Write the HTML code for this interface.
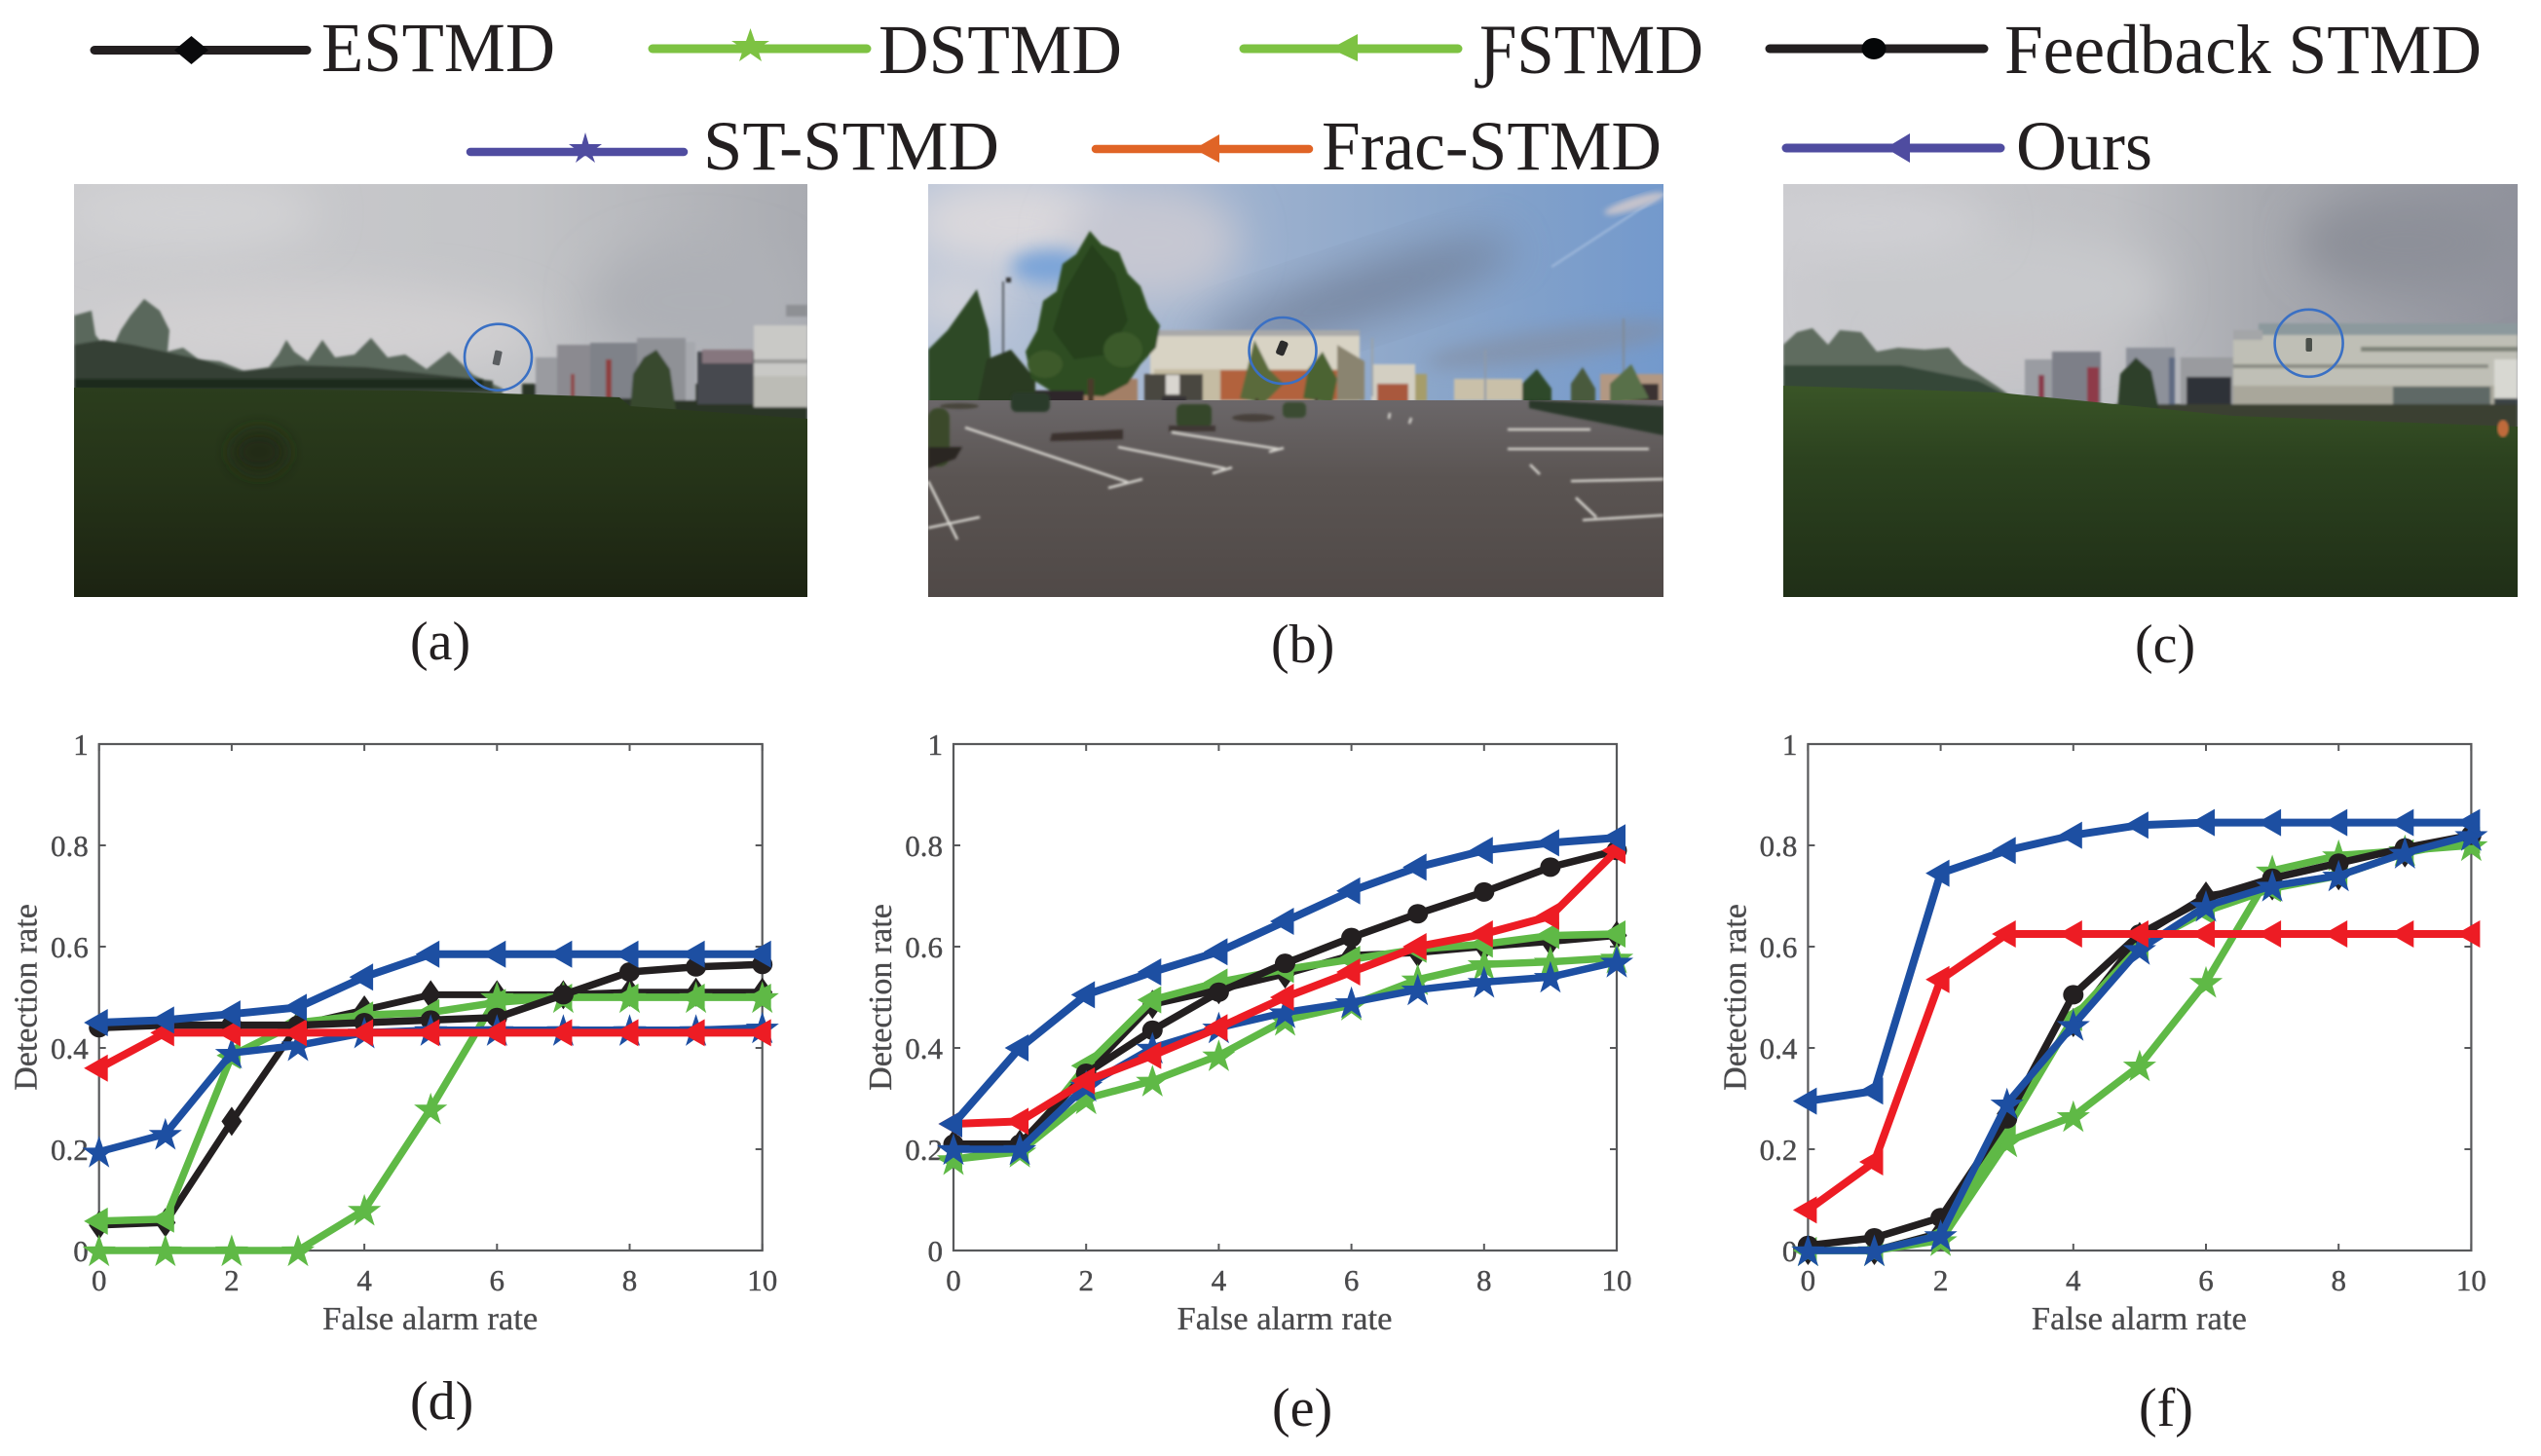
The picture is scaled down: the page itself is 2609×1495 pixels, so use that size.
<!DOCTYPE html>
<html lang="en">
<head>
<meta charset="utf-8">
<title>STMD comparison figure</title>
<style>
html,body{margin:0;padding:0;background:#fff;}
body{width:2609px;height:1495px;overflow:hidden;}
svg#figure{display:block;position:absolute;left:0;top:0;}
text{font-family:"Liberation Serif","DejaVu Serif",serif;}
</style>
</head>
<body>
<svg id="figure" xmlns="http://www.w3.org/2000/svg" width="2609" height="1495" viewBox="0 0 2609 1495">
<defs>
  <filter id="b1" x="-5%" y="-5%" width="110%" height="110%"><feGaussianBlur stdDeviation="1.2"/></filter>
  <filter id="b3" x="-20%" y="-20%" width="140%" height="140%"><feGaussianBlur stdDeviation="3"/></filter>
  <filter id="b8" x="-40%" y="-60%" width="180%" height="220%"><feGaussianBlur stdDeviation="9"/></filter>
  <filter id="b20" x="-50%" y="-50%" width="200%" height="200%"><feGaussianBlur stdDeviation="22"/></filter>
  <linearGradient id="skyA" x1="0" y1="0" x2="1" y2="0"><stop offset="0" stop-color="#cbcbce"/><stop offset=".6" stop-color="#c3c4c7"/><stop offset="1" stop-color="#a9abb1"/></linearGradient>
  <linearGradient id="skyC" x1="0" y1="0" x2="1" y2="0"><stop offset="0" stop-color="#cbcbcf"/><stop offset=".45" stop-color="#bfc0c4"/><stop offset=".65" stop-color="#a8aab0"/><stop offset="1" stop-color="#90929c"/></linearGradient>
  <linearGradient id="skyB" x1="0" y1="0" x2="1" y2="0"><stop offset="0" stop-color="#b8c4d8"/><stop offset=".35" stop-color="#a3b5d0"/><stop offset=".7" stop-color="#8aa5c9"/><stop offset="1" stop-color="#7399cc"/></linearGradient>
  <linearGradient id="grassA" x1="0" y1="0" x2="0" y2="1"><stop offset="0" stop-color="#2b3d1d"/><stop offset=".45" stop-color="#253318"/><stop offset="1" stop-color="#1c2312"/></linearGradient>
  <linearGradient id="grassC" x1="0" y1="0" x2="0" y2="1"><stop offset="0" stop-color="#3a5527"/><stop offset=".35" stop-color="#2c421f"/><stop offset="1" stop-color="#202f17"/></linearGradient>
  <linearGradient id="asphalt" x1="0" y1="0" x2="0" y2="1"><stop offset="0" stop-color="#6b6769"/><stop offset=".4" stop-color="#5a5452"/><stop offset="1" stop-color="#504947"/></linearGradient>
</defs>

<!-- LEGEND -->
<g font-size="72" fill="#231f20">
  <g>
    <line x1="97" y1="51.5" x2="315" y2="51.5" stroke="#231f20" stroke-width="9" stroke-linecap="round"/>
    <polygon points="196.5,37 214,51.5 196.5,66 179,51.5" fill="#0a0a0c"/>
    <text x="330" y="73" textLength="240" lengthAdjust="spacingAndGlyphs">ESTMD</text>
  </g>
  <g>
    <line x1="670" y1="50" x2="890" y2="50" stroke="#7dc242" stroke-width="9" stroke-linecap="round"/>
    <polygon points="770.5,29 775,42 790,42 778,50 782,63 770.5,55 759,63 763,50 751,42 766,42" fill="#7dc242"/>
    <text x="902" y="75" textLength="250" lengthAdjust="spacingAndGlyphs">DSTMD</text>
  </g>
  <g>
    <line x1="1277" y1="50" x2="1497" y2="50" stroke="#7dc242" stroke-width="9" stroke-linecap="round"/>
    <polygon points="1366,50 1394,35 1394,63" fill="#7dc242"/>
    <text x="1519" y="75" textLength="230" lengthAdjust="spacingAndGlyphs">ƑSTMD</text>
  </g>
  <g>
    <line x1="1817" y1="50" x2="2037" y2="50" stroke="#231f20" stroke-width="9" stroke-linecap="round"/>
    <ellipse cx="1924" cy="50" rx="12.5" ry="11" fill="#050708"/>
    <text x="2058" y="75" textLength="490" lengthAdjust="spacingAndGlyphs">Feedback STMD</text>
  </g>
  <g>
    <line x1="483" y1="156" x2="702" y2="156" stroke="#4f4ca0" stroke-width="8.5" stroke-linecap="round"/>
    <polygon points="601,136 604.5,148 618,148 607,156 611,167 601,159.5 591,167 595,156 584,148 597.5,148" fill="#4f4ca0"/>
    <text x="722" y="174" textLength="304" lengthAdjust="spacingAndGlyphs">ST-STMD</text>
  </g>
  <g>
    <line x1="1125" y1="153" x2="1344" y2="153" stroke="#e06426" stroke-width="8.5" stroke-linecap="round"/>
    <polygon points="1226,153 1252,138 1252,167" fill="#e06426"/>
    <text x="1357" y="174" textLength="349" lengthAdjust="spacingAndGlyphs">Frac-STMD</text>
  </g>
  <g>
    <line x1="1834" y1="152" x2="2054" y2="152" stroke="#4f4ca0" stroke-width="9" stroke-linecap="round"/>
    <polygon points="1936,152 1961,137 1961,167" fill="#4f4ca0"/>
    <text x="2070" y="174" textLength="140" lengthAdjust="spacingAndGlyphs">Ours</text>
  </g>
</g>

<!-- PHOTO A -->
<g>
<svg x="76" y="189" width="753" height="424" viewBox="0 0 753 424">
  <rect width="753" height="424" fill="url(#skyA)"/>
  <ellipse cx="120" cy="30" rx="130" ry="40" fill="#d2d2d4" filter="url(#b20)"/>
  <ellipse cx="240" cy="150" rx="240" ry="45" fill="#d2d0d2" filter="url(#b20)"/>
  <ellipse cx="640" cy="120" rx="110" ry="60" fill="#aeb0b6" filter="url(#b20)"/>
  <g filter="url(#b1)">
    <path d="M0,135 L18,130 L22,155 L30,165 L38,172 L48,150 L58,135 L72,118 L88,130 L98,150 L96,172 L112,168 L128,180 L150,182 L175,192 L200,188 L210,175 L218,160 L226,172 L240,182 L255,160 L268,178 L288,175 L305,158 L322,178 L340,175 L362,190 L385,172 L410,196 L440,210 L440,216 L0,216Z" fill="#5a675c"/>
    <path d="M0,165 L30,160 L60,165 L130,180 L170,192 L230,186 L300,188 L430,202 L430,214 L0,214Z" fill="#344035"/>
    <rect x="0" y="200" width="420" height="10" fill="#1f2a1d"/>
    <rect x="460" y="205" width="293" height="40" fill="#2c3426"/>
    <rect x="474" y="178" width="22" height="40" fill="#9a9ba0"/>
    <rect x="496" y="165" width="52" height="54" fill="#8b8a90"/>
    <rect x="530" y="163" width="48" height="57" fill="#7f8289"/>
    <rect x="546" y="180" width="6" height="40" fill="#8e3f3f"/>
    <rect x="510" y="195" width="4" height="24" fill="#8f4848"/>
    <rect x="578" y="158" width="50" height="64" fill="#8f9196"/>
    <rect x="628" y="162" width="10" height="60" fill="#a6a8ad"/>
    <rect x="640" y="172" width="58" height="54" fill="#46484f"/>
    <rect x="645" y="170" width="52" height="14" fill="#86767e"/>
    <rect x="698" y="145" width="55" height="84" fill="#c9c9c6"/>
    <rect x="698" y="180" width="55" height="4" fill="#9a9a98"/>
    <rect x="698" y="197" width="55" height="32" fill="#bcbcb6"/>
    <rect x="731" y="124" width="22" height="12" fill="#8e9094"/>
    <path d="M571,232 L574,195 L585,178 L598,170 L612,190 L618,232Z" fill="#37482f"/>
  </g>
  <path d="M0,209 L350,212 L470,216 L560,219 L571,228 L753,241 L753,424 L0,424Z" fill="url(#grassA)"/>
  <ellipse cx="190" cy="275" rx="28" ry="22" fill="#202c17" filter="url(#b8)"/>
</svg>
<ellipse cx="511.5" cy="366.7" rx="34.5" ry="34" fill="none" stroke="#3a70c4" stroke-width="2.6"/>
<rect x="507" y="360" width="7.5" height="15" rx="1.5" transform="rotate(12 511 367)" fill="#5a5d60"/>
</g>

<!-- PHOTO B -->
<g>
<svg x="953" y="189" width="755" height="424" viewBox="0 0 755 424">
  <rect width="755" height="424" fill="url(#skyB)"/>
  <ellipse cx="90" cy="40" rx="110" ry="50" fill="#dad8dc" filter="url(#b20)"/>
  <ellipse cx="230" cy="60" rx="90" ry="60" fill="#c6c7d2" filter="url(#b20)"/>
  <ellipse cx="30" cy="120" rx="50" ry="30" fill="#d4d4da" filter="url(#b20)"/>
  <ellipse cx="125" cy="85" rx="40" ry="18" fill="#7ba4d8" filter="url(#b8)"/>
  <ellipse cx="440" cy="115" rx="170" ry="28" transform="rotate(-18 440 115)" fill="#707d94" opacity=".75" filter="url(#b20)"/>
  <ellipse cx="640" cy="165" rx="130" ry="16" transform="rotate(-8 640 165)" fill="#8390a6" opacity=".7" filter="url(#b8)"/>
  <path d="M640,85 L755,10" stroke="#aac1e0" stroke-width="2.5" fill="none" filter="url(#b1)" opacity=".7"/>
  <ellipse cx="725" cy="20" rx="32" ry="6" transform="rotate(-18 725 20)" fill="#c5c3cc" filter="url(#b3)"/>
  <g filter="url(#b1)">
    <rect x="228" y="153" width="215" height="70" fill="#d8d3c4"/>
    <rect x="228" y="150" width="215" height="6" fill="#a9a9a9"/>
    <rect x="232" y="190" width="210" height="33" fill="#c5bca3"/>
    <rect x="300" y="191" width="130" height="31" fill="#b2623c"/>
    <rect x="222" y="195" width="60" height="28" fill="#4a4640"/>
    <rect x="244" y="196" width="14" height="20" fill="#d9d6d0"/>
    <path d="M420,165 L448,182 L448,222 L420,222Z" fill="#8a8470"/>
    <rect x="455" y="185" width="45" height="38" fill="#d3cfc2"/>
    <rect x="461" y="205" width="32" height="20" fill="#a9593c"/>
    <rect x="500" y="195" width="12" height="28" fill="#a69d6a"/>
    <rect x="540" y="200" width="70" height="22" fill="#c9c0a9"/>
    <rect x="690" y="195" width="65" height="30" fill="#b29883"/>
    <rect x="700" y="205" width="50" height="18" fill="#3a3330"/>
    <rect x="0" y="200" width="70" height="22" fill="#3a3b42"/>
    <rect x="125" y="200" width="90" height="30" fill="#a37f66"/>
    <rect x="76" y="100" width="2" height="130" fill="#555a60"/>
    <rect x="80" y="96" width="5" height="5" fill="#333"/>
    <rect x="455" y="158" width="2" height="60" fill="#9aa2a8"/>
    <rect x="571" y="170" width="2" height="55" fill="#8e9aa8"/>
    <rect x="713" y="138" width="2" height="80" fill="#7f8a96"/>
    <path d="M0,170 L20,150 L50,108 L62,150 L65,190 L55,228 L0,228Z" fill="#2f4a28"/>
    <path d="M50,228 L60,180 L85,170 L110,200 L110,230Z" fill="#2a3a20"/>
    <path d="M100,172 L112,150 L118,120 L132,110 L138,82 L152,72 L166,48 L178,62 L196,70 L205,92 L218,105 L226,128 L238,145 L234,168 L218,185 L205,205 L180,218 L130,215 L106,200Z" fill="#2e4e24"/>
    <path d="M140,110 L168,62 L192,92 L205,140 L185,175 L150,180 L128,150Z" fill="#25401d"/>
    <ellipse cx="120" cy="185" rx="18" ry="14" fill="#3c5a2c"/>
    <ellipse cx="200" cy="170" rx="20" ry="18" fill="#3a5a2a"/>
    <rect x="164" y="200" width="6" height="70" fill="#4a3a2c"/>
    <path d="M330,180 L335,160 L350,190 L365,205 L345,225 L320,220Z" fill="#5a6a3a"/>
    <path d="M390,190 L405,172 L420,200 L415,225 L385,220Z" fill="#4b6332"/>
    <rect x="336" y="220" width="3" height="35" fill="#4a3f30"/>
    <rect x="397" y="220" width="3" height="35" fill="#4a3f30"/>
    <path d="M610,205 L625,190 L640,210 L640,225 L610,225Z" fill="#2d4a2a"/>
    <path d="M660,205 L672,188 L685,210 L685,225 L660,225Z" fill="#4a5a3c"/>
    <path d="M700,205 L722,185 L740,220 L700,225Z" fill="#59704a"/>
    <rect x="110" y="212" width="50" height="22" fill="#2d252a"/>
    <rect x="240" y="218" width="25" height="10" fill="#363034"/>
  </g>
  <path d="M0,222 L755,222 L755,424 L0,424Z" fill="url(#asphalt)"/>
  <g filter="url(#b1)">
    <rect x="85" y="214" width="40" height="20" rx="6" fill="#2a3a2a"/>
    <rect x="255" y="226" width="36" height="24" rx="6" fill="#34472c"/>
    <rect x="364" y="224" width="24" height="16" rx="5" fill="#3a4b33"/>
    <ellipse cx="334" cy="240" rx="22" ry="4" fill="#46403a"/>
    <ellipse cx="32" cy="228" rx="20" ry="3" fill="#46443a"/>
    <path d="M127,256 L200,252 L200,262 L125,264Z" fill="#3a322e"/>
    <rect x="247" y="248" width="48" height="6" fill="#3f3834"/>
    <rect x="0" y="230" width="22" height="60" rx="10" fill="#3a4a2c"/>
    <path d="M0,270 L35,270 L28,282 L0,292Z" fill="#2c2623"/>
    <path d="M617,222 L755,228 L755,258 L640,235 L617,230Z" fill="#29392a"/>
    <g stroke="#d5d3cd" stroke-width="2.6" fill="none">
      <path d="M38,250 L205,306"/><path d="M185,312 L220,303"/>
      <path d="M0,305 L30,365"/><path d="M0,353 L53,342"/>
      <path d="M195,270 L305,292"/><path d="M292,297 L312,291"/>
      <path d="M250,255 L360,272"/><path d="M350,275 L365,271"/>
      <path d="M660,305 L755,303"/><path d="M618,288 L628,298"/>
      <path d="M672,345 L755,340"/><path d="M665,322 L686,342"/>
      <path d="M595,272 L740,272"/><path d="M595,252 L680,252"/>
      <path d="M496,240 L494,246"/><path d="M474,235 L473,241"/>
    </g>
  </g>
</svg>
<ellipse cx="1317" cy="360" rx="34.5" ry="34" fill="none" stroke="#3a70c4" stroke-width="2.6"/>
<rect x="1312" y="350" width="9" height="15" rx="2.5" transform="rotate(22 1316.5 357)" fill="#2c2c2c"/>
</g>

<!-- PHOTO C -->
<g>
<svg x="1831" y="189" width="754" height="424" viewBox="0 0 754 424">
  <rect width="754" height="424" fill="url(#skyC)"/>
  <ellipse cx="220" cy="110" rx="170" ry="60" fill="#c8c9cc" filter="url(#b20)"/>
  <ellipse cx="90" cy="40" rx="120" ry="30" fill="#d0d0d4" filter="url(#b20)"/>
  <ellipse cx="640" cy="60" rx="110" ry="50" fill="#8d9099" filter="url(#b20)"/>
  <ellipse cx="230" cy="170" rx="120" ry="20" fill="#c9c6c9" filter="url(#b20)"/>
  <g filter="url(#b1)">
    <path d="M0,165 L14,152 L30,148 L46,165 L58,150 L80,152 L96,172 L118,168 L145,170 L170,168 L185,185 L220,208 L240,222 L0,222Z" fill="#5e6c5e"/>
    <path d="M0,186 L120,186 L200,202 L228,216 L0,218Z" fill="#354738"/>
    <rect x="248" y="180" width="28" height="46" fill="#9a9ca2"/>
    <rect x="276" y="172" width="50" height="54" fill="#7d7f88"/>
    <rect x="262" y="196" width="6" height="28" fill="#8a3a4c"/>
    <rect x="312" y="188" width="12" height="38" fill="#8e3a4a"/>
    <rect x="352" y="168" width="50" height="60" fill="#8d919a"/>
    <rect x="396" y="178" width="6" height="50" fill="#5e6a82"/>
    <rect x="408" y="178" width="56" height="52" fill="#9a9b9f"/>
    <rect x="414" y="198" width="46" height="32" fill="#2e3138"/>
    <rect x="488" y="143" width="266" height="12" fill="#8c999d"/>
    <rect x="462" y="155" width="292" height="68" fill="#bfbfb6"/>
    <rect x="462" y="150" width="30" height="10" fill="#a4a6a8"/>
    <rect x="593" y="167" width="161" height="5" fill="#7f8379"/>
    <rect x="462" y="185" width="262" height="4" fill="#8a8c84"/>
    <rect x="462" y="207" width="292" height="26" fill="#a9a79b"/>
    <rect x="626" y="208" width="100" height="24" fill="#5e6966"/>
    <rect x="730" y="180" width="24" height="50" fill="#d8d8d2"/>
    <rect x="730" y="220" width="24" height="12" fill="#3a4244"/>
    <rect x="340" y="226" width="414" height="28" fill="#3a4030"/>
    <path d="M343,232 L346,195 L362,178 L378,192 L386,232Z" fill="#2d4129"/>
  </g>
  <path d="M0,207 L220,214 L341,226 L462,238 L754,249 L754,424 L0,424Z" fill="url(#grassC)"/>
  <ellipse cx="739" cy="251" rx="6" ry="9" fill="#bf6a3a" filter="url(#b1)"/>
</svg>
<ellipse cx="2370.6" cy="352.3" rx="35" ry="34.5" fill="none" stroke="#3a70c4" stroke-width="2.6"/>
<rect x="2367.5" y="347" width="6.5" height="14" rx="2" fill="#4a4f4a"/>
</g>

<!-- PHOTO CAPTIONS -->
<g font-size="56" fill="#231f20">
  <text x="421" y="677">(a)</text>
  <text x="1305" y="680">(b)</text>
  <text x="2192" y="680">(c)</text>
  <text x="421" y="1457">(d)</text>
  <text x="1306" y="1464">(e)</text>
  <text x="2196" y="1464">(f)</text>
</g>

<g id="charts"></g>
</svg>

<script>
// Shared axis data
const xCategories = [0,1,2,3,4,5,6,7,8,9,10];
const xTickValues = [0,2,4,6,8,10];
const xTickLabels = ['0','2','4','6','8','10'];
const yTickValues = [0,0.2,0.4,0.6,0.8,1];
const yTickLabels = ['0','0.2','0.4','0.6','0.8','1'];
const xAxisTitle = 'False alarm rate';
const yAxisTitle = 'Detection rate';

// Panel (d)
const panelD_estmd    = [0.05,0.055,0.255,0.445,0.475,0.505,0.505,0.505,0.51,0.51,0.51];
const panelD_dstmd    = [0,0,0,0,0.08,0.28,0.50,0.50,0.50,0.50,0.50];
const panelD_fstmd    = [0.058,0.062,0.385,0.45,0.465,0.47,0.49,0.50,0.50,0.50,0.50];
const panelD_feedback = [0.44,0.445,0.445,0.445,0.45,0.455,0.46,0.505,0.55,0.56,0.565];
const panelD_st       = [0.195,0.23,0.39,0.405,0.43,0.435,0.435,0.435,0.435,0.435,0.44];
const panelD_frac     = [0.36,0.43,0.43,0.43,0.43,0.43,0.43,0.43,0.43,0.43,0.43];
const panelD_ours     = [0.45,0.455,0.467,0.48,0.54,0.585,0.585,0.585,0.585,0.585,0.585];

// Panel (e)
const panelE_estmd    = [0.21,0.21,0.35,0.486,0.515,0.546,0.583,0.588,0.60,0.61,0.622];
const panelE_dstmd    = [0.18,0.195,0.30,0.335,0.385,0.455,0.485,0.535,0.565,0.57,0.578];
const panelE_fstmd    = [0.18,0.20,0.365,0.495,0.53,0.555,0.575,0.595,0.605,0.622,0.625];
const panelE_feedback = [0.21,0.21,0.35,0.435,0.51,0.567,0.618,0.665,0.708,0.757,0.79];
const panelE_st       = [0.20,0.20,0.325,0.40,0.44,0.47,0.49,0.515,0.53,0.54,0.57];
const panelE_frac     = [0.25,0.255,0.335,0.385,0.44,0.50,0.55,0.60,0.625,0.66,0.79];
const panelE_ours     = [0.25,0.40,0.505,0.55,0.59,0.65,0.71,0.757,0.79,0.805,0.815];

// Panel (f)
const panelF_estmd    = [0,0,0.035,0.27,0.45,0.62,0.70,0.72,0.74,0.785,0.82];
const panelF_dstmd    = [0,0,0.02,0.215,0.265,0.365,0.53,0.75,0.78,0.79,0.80];
const panelF_fstmd    = [0,0,0.03,0.24,0.46,0.60,0.67,0.715,0.74,0.785,0.81];
const panelF_feedback = [0.01,0.025,0.065,0.26,0.505,0.625,0.695,0.735,0.765,0.795,0.82];
const panelF_st       = [0,0,0.03,0.29,0.445,0.595,0.68,0.72,0.74,0.785,0.82];
const panelF_frac     = [0.08,0.175,0.535,0.625,0.625,0.625,0.625,0.625,0.625,0.625,0.625];
const panelF_ours     = [0.295,0.315,0.745,0.79,0.82,0.84,0.845,0.845,0.845,0.845,0.845];

const SVGNS = 'http://www.w3.org/2000/svg';
function mk(tag, attrs, parent){
  const e = document.createElementNS(SVGNS, tag);
  for (const k in attrs) e.setAttribute(k, attrs[k]);
  if (parent) parent.appendChild(e);
  return e;
}
const PLOT_TOP = 764, PLOT_BOTTOM = 1284, PLOT_WIDTH = 681;
const AXIS_COLOR = '#58595b', LABEL_COLOR = '#4a4a4c';
const BLACK = '#231f20', GREEN = '#5fb946', BLUE = '#1d4fa2', RED = '#ed1c24';

function starPoints(cx, cy){
  const R = 18, r = 7, pts = [];
  for (let i = 0; i < 10; i++){
    const rad = i % 2 ? r : R;
    const a = -Math.PI/2 + i*Math.PI/5;
    pts.push((cx + rad*Math.cos(a)).toFixed(1) + ',' + (cy + 1.5 + rad*Math.sin(a)).toFixed(1));
  }
  return pts.join(' ');
}
function drawMarker(kind, color, cx, cy, g){
  if (kind === 'star') return mk('polygon', {points: starPoints(cx, cy), fill: color}, g);
  if (kind === 'left') return mk('polygon', {points: (cx-15.5)+','+cy+' '+(cx+9)+','+(cy-14)+' '+(cx+9)+','+(cy+14), fill: color}, g);
  if (kind === 'circle') return mk('ellipse', {cx: cx, cy: cy, rx: 10.5, ry: 10, fill: color}, g);
  return mk('polygon', {points: cx+','+(cy-15)+' '+(cx+10.5)+','+cy+' '+cx+','+(cy+15)+' '+(cx-10.5)+','+cy, fill: color}, g);
}

function drawPanel(root, name, left, series){
  const right = left + PLOT_WIDTH;
  const xScale = v => left + (v - 0) / 10 * PLOT_WIDTH;
  const yScale = v => PLOT_BOTTOM - v * (PLOT_BOTTOM - PLOT_TOP);

  const g = mk('g', {}, root);
  
  

  const box = mk('rect', {x: left, y: PLOT_TOP, width: PLOT_WIDTH, height: PLOT_BOTTOM-PLOT_TOP, fill: '#fff', stroke: AXIS_COLOR, 'stroke-width': 2.2}, g);
  
  

  xTickValues.forEach((v, i) => {
    const x = xScale(v);
    const t1 = mk('line', {x1: x, x2: x, y1: PLOT_BOTTOM, y2: PLOT_BOTTOM-7, stroke: AXIS_COLOR, 'stroke-width': 2}, g);
    
    
    const t2 = mk('line', {x1: x, x2: x, y1: PLOT_TOP, y2: PLOT_TOP+7, stroke: AXIS_COLOR, 'stroke-width': 2}, g);
    
    
    const lab = mk('text', {x: x, y: 1325, 'text-anchor': 'middle', 'font-size': 31, fill: LABEL_COLOR, stroke: LABEL_COLOR, 'stroke-width': 0.4}, g);
    lab.textContent = xTickLabels[i];
    
    
  });
  yTickValues.forEach((v, i) => {
    const y = yScale(v);
    const t1 = mk('line', {x1: left, x2: left+7, y1: y, y2: y, stroke: AXIS_COLOR, 'stroke-width': 2}, g);
    
    
    const t2 = mk('line', {x1: right, x2: right-7, y1: y, y2: y, stroke: AXIS_COLOR, 'stroke-width': 2}, g);
    
    
    const lab = mk('text', {x: left-11, y: y+11, 'text-anchor': 'end', 'font-size': 31, fill: LABEL_COLOR, stroke: LABEL_COLOR, 'stroke-width': 0.4}, g);
    lab.textContent = yTickLabels[i];
    
    
  });

  const xt = mk('text', {x: left+340, y: 1365, 'text-anchor': 'middle', 'font-size': 34, fill: LABEL_COLOR, stroke: LABEL_COLOR, 'stroke-width': 0.3, textLength: 221, lengthAdjust: 'spacingAndGlyphs'}, g);
  xt.textContent = xAxisTitle;
  
  
  const ytx = left - 64, yty = 1024;
  const yt = mk('text', {x: ytx, y: yty, 'text-anchor': 'middle', 'font-size': 34, fill: LABEL_COLOR, stroke: LABEL_COLOR, 'stroke-width': 0.3, transform: 'rotate(-90 '+ytx+' '+yty+')'}, g);
  yt.textContent = yAxisTitle;
  
  

  series.forEach(s => {
    const sg = mk('g', {}, g);
    
    
    const pts = s.values.map((v, i) => xScale(xCategories[i]).toFixed(1) + ',' + yScale(v).toFixed(1)).join(' ');
    const line = mk('polyline', {points: pts, fill: 'none', stroke: s.color, 'stroke-width': s.width, 'stroke-linejoin': 'round'}, sg);
    
    
    s.values.forEach((v, i) => {
      const m = drawMarker(s.marker, s.color, xScale(xCategories[i]), yScale(v), sg);
      
      
    });
  });
}

function makeSeries(estmd, dstmd, fstmd, feedback, st, frac, ours){
  return [
    {key:'estmd',    values:estmd,    color:BLACK, marker:'diamond', width:7},
    {key:'dstmd',    values:dstmd,    color:GREEN, marker:'star',    width:7.5},
    {key:'fstmd',    values:fstmd,    color:GREEN, marker:'left',    width:7.5},
    {key:'feedback', values:feedback, color:BLACK, marker:'circle',  width:7.5},
    {key:'st-stmd',  values:st,       color:BLUE,  marker:'star',    width:7.5},
    {key:'frac',     values:frac,     color:RED,   marker:'left',    width:8},
    {key:'ours',     values:ours,     color:BLUE,  marker:'left',    width:8}
  ];
}

const chartsRoot = document.getElementById('charts');
drawPanel(chartsRoot, 'd', 101.7, makeSeries(panelD_estmd, panelD_dstmd, panelD_fstmd, panelD_feedback, panelD_st, panelD_frac, panelD_ours));
drawPanel(chartsRoot, 'e', 979, makeSeries(panelE_estmd, panelE_dstmd, panelE_fstmd, panelE_feedback, panelE_st, panelE_frac, panelE_ours));
drawPanel(chartsRoot, 'f', 1856.4, makeSeries(panelF_estmd, panelF_dstmd, panelF_fstmd, panelF_feedback, panelF_st, panelF_frac, panelF_ours));
</script>
</body>
</html>
